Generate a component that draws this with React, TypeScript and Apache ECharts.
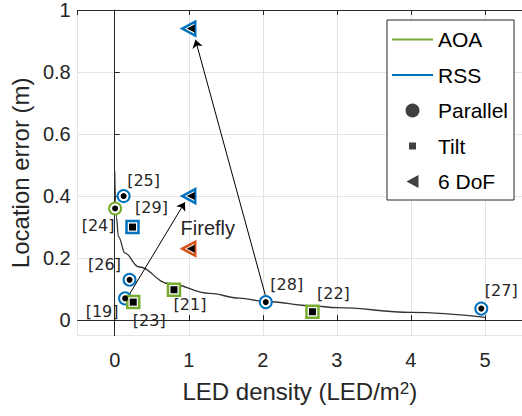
import React, { useEffect, useRef } from "react";
import * as echarts from "echarts";

// ---- data ----
const aoaParallel = [[0.005, 0.36]];
const aoaParallelRefs = ["[24]"];
const rssParallel = [[0.12, 0.4], [0.2, 0.13], [0.14, 0.07], [2.04, 0.058], [4.95, 0.037]];
const rssParallelRefs = ["[25]", "[26]", "[19]", "[28]", "[27]"];
const aoaTilt = [[0.25, 0.058], [0.8, 0.098], [2.67, 0.027]];
const aoaTiltRefs = ["[23]", "[21]", "[22]"];
const rssTilt = [[0.24, 0.3]];
const rssTiltRefs = ["[29]"];
const rss6dof = [[1.0, 0.4], [1.0, 0.94]];
const firefly6dof = [[1.0, 0.23]];
const fireflyRefs = ["Firefly"];
const fitCurve = [
  [0.0, 0.48], [0.01, 0.386], [0.023, 0.333], [0.05, 0.269], [0.14, 0.216],
  [0.32, 0.172], [0.73, 0.118], [1.28, 0.086], [1.68, 0.071], [2.04, 0.06],
  [2.67, 0.046], [3.0, 0.04], [4.0, 0.025], [5.0, 0.009],
];
const arrowFrom = [[0.18, 0.076], [2.04, 0.075]];
const arrowTo = [[0.947, 0.38], [1.09, 0.904]];
const legendNames = ["AOA", "RSS", "Parallel", "Tilt", "6 DoF"];

// ---- styles ----
const BLUE = "#0072BD";
const GREEN = "#77AC30";
const ORANGE = "#D95319";
const INK = "#262626";
const SANS = "'Liberation Sans', Arial, sans-serif";
const labelOffsets: Record<string, number[]> = {
  "[24]": [-17, 17],
  "[25]": [20, -16],
  "[29]": [19, -20],
  "[26]": [-25, -15],
  "[19]": [-23, 13],
  "[23]": [16, 18],
  "[21]": [16, 15],
  "[28]": [21, -18],
  "[22]": [21, -18],
  "[27]": [20, -18],
  Firefly: [19, -21],
};
const LINE_ICON = "path://M0,0L41,0L41,2L0,2Z";

function markerSeries(
  data: number[][],
  refs: string[] | null,
  symbol: string,
  color: string,
  outerSize: number | number[],
  innerSize: number | number[],
  borderWidth: number,
  rotate = 0,
  innerOffset: number[] = [0, 0]
) {
  const outer = {
    type: "scatter",
    silent: true,
    symbol,
    symbolSize: outerSize,
    symbolRotate: rotate,
    itemStyle: { color: "#fff", borderColor: color, borderWidth, opacity: 1 },
    z: 5,
    label: {
      show: !!refs,
      position: "inside",
      fontFamily: "'DejaVu Sans', sans-serif",
      fontSize: 16,
      color: INK,
    },
    data: data.map((d, i) => {
      const ref = refs ? refs[i] : null;
      if (!ref) return { value: d, label: { show: false } };
      const isFirefly = ref === "Firefly";
      return {
        value: d,
        label: {
          show: true,
          formatter: ref,
          offset: labelOffsets[ref],
          fontFamily: isFirefly ? SANS : "'DejaVu Sans', sans-serif",
          fontSize: isFirefly ? 20 : 16,
        },
      };
    }),
  };
  const inner = {
    type: "scatter",
    silent: true,
    symbol,
    symbolSize: innerSize,
    symbolRotate: rotate,
    symbolOffset: innerOffset,
    itemStyle: { color: "#000", opacity: 1 },
    z: 6,
    data: data.map((d) => d),
  };
  return [outer, inner];
}

export default function App() {
  const ref = useRef<HTMLDivElement>(null);
  useEffect(() => {
    if (!ref.current) return;
    const chart = echarts.init(ref.current, null, { renderer: "svg" });
    const circ = (d: number[][], r: string[] | null, c: string) =>
      markerSeries(d, r, "circle", c, 12, 6, 2);
    const sq = (d: number[][], r: string[] | null, c: string) =>
      markerSeries(d, r, "rect", c, 12, 7, 2.5);
    const tri = (d: number[][], r: string[] | null, c: string) =>
      markerSeries(d, r, "triangle", c, [14, 13], [8, 8], 2.5, 90, [2, 0]);

    const option: any = {
      animation: false,
      backgroundColor: "#fff",
      grid: { left: 77, right: -3, top: 8.3, bottom: 80.4, containLabel: false },
      legend: {
        orient: "vertical",
        left: 387,
        top: 20,
        backgroundColor: "#fff",
        borderColor: INK,
        borderWidth: 1,
        borderRadius: 0,
        padding: [9, 6, 8, 5],
        itemWidth: 41,
        itemHeight: 14,
        itemGap: 14.5,
        selectedMode: false,
        textStyle: { fontFamily: SANS, fontSize: 21, color: "#000", lineHeight: 14 },
        data: [
          { name: legendNames[0], icon: LINE_ICON, itemStyle: { color: GREEN } },
          { name: legendNames[1], icon: LINE_ICON, itemStyle: { color: BLUE } },
          { name: legendNames[2], icon: "circle" },
          { name: legendNames[3], icon: "path://M0,0M14,14M3.5,3.5L10.5,3.5L10.5,10.5L3.5,10.5Z" },
          { name: legendNames[4], icon: "path://M0,0M14,14M1,7L13,0.5L13,13.5Z" },
        ],
      },
      xAxis: [
        {
          type: "value",
          min: -0.5,
          max: 5.5,
          splitNumber: 6,
          name: "LED density (LED/m{sup|2})",
          nameLocation: "middle",
          nameGap: 44,
          nameTextStyle: {
            fontFamily: SANS,
            fontSize: 24,
            color: INK,
            rich: { sup: { fontFamily: SANS, fontSize: 17, color: INK, verticalAlign: "top" } },
          },
          axisLine: { show: true, lineStyle: { color: INK, width: 1 } },
          axisTick: { show: true, inside: true, length: 5, lineStyle: { color: INK } },
          axisLabel: {
            fontFamily: SANS,
            fontSize: 20,
            color: INK,
            margin: 14,
            showMinLabel: false,
            showMaxLabel: false,
          },
          splitLine: { show: true, lineStyle: { color: "#e3e3e3", width: 1 } },
        },
        {
          type: "value",
          position: "top",
          min: -0.5,
          max: 5.5,
          splitNumber: 6,
          axisLine: { show: true, lineStyle: { color: INK, width: 1 } },
          axisTick: { show: true, inside: true, length: 5, lineStyle: { color: INK } },
          axisLabel: { show: false },
          splitLine: { show: false },
        },
      ],
      yAxis: {
        type: "value",
        min: -0.05,
        max: 1,
        splitNumber: 5,
        name: "Location error (m)",
        nameLocation: "middle",
        nameGap: 42,
        nameTextStyle: { fontFamily: SANS, fontSize: 24, color: INK },
        axisLine: { show: true, lineStyle: { color: INK, width: 1 } },
        axisTick: { show: true, inside: true, length: 5, lineStyle: { color: INK } },
        axisLabel: { fontFamily: SANS, fontSize: 20, color: INK, margin: 7, showMinLabel: false },
        splitLine: { show: true, lineStyle: { color: "#e3e3e3", width: 1 } },
      },
      series: [
        { name: legendNames[0], type: "line", data: [], symbol: "none", color: GREEN, lineStyle: { width: 2 } },
        { name: legendNames[1], type: "line", data: [], symbol: "none", color: BLUE, lineStyle: { width: 2 } },
        { name: legendNames[2], type: "scatter", data: [], itemStyle: { color: "#404040", opacity: 1 } },
        { name: legendNames[3], type: "scatter", data: [], itemStyle: { color: "#404040", opacity: 1 } },
        { name: legendNames[4], type: "scatter", data: [], itemStyle: { color: "#404040", opacity: 1 } },
        {
          type: "line",
          silent: true,
          data: fitCurve,
          smooth: 0.4,
          smoothMonotone: "x",
          symbol: "none",
          lineStyle: { color: "#333", width: 1.3 },
          z: 3,
        },
        ...circ(aoaParallel, aoaParallelRefs, GREEN),
        ...circ(rssParallel, rssParallelRefs, BLUE),
        ...sq(aoaTilt, aoaTiltRefs, GREEN),
        ...sq(rssTilt, rssTiltRefs, BLUE),
        ...tri(rss6dof, null, BLUE),
        ...tri(firefly6dof, fireflyRefs, ORANGE),
        {
          type: "line",
          silent: true,
          data: [],
          symbol: "none",
          z: 8,
          markLine: {
            silent: true,
            symbol: ["none", "arrow"],
            symbolSize: 8,
            label: { show: false },
            emphasis: { disabled: true },
            lineStyle: { color: "#000", width: 1, type: "solid" },
            data: arrowFrom.map((f, i) => [{ coord: f }, { coord: arrowTo[i] }]),
          },
        },
      ],
    };
    chart.setOption(option);
    return () => chart.dispose();
  }, []);
  return (
    <div
      ref={ref}
      style={{ position: "absolute", left: 0, top: 0, width: 522, height: 416, background: "#fff" }}
    />
  );
}
